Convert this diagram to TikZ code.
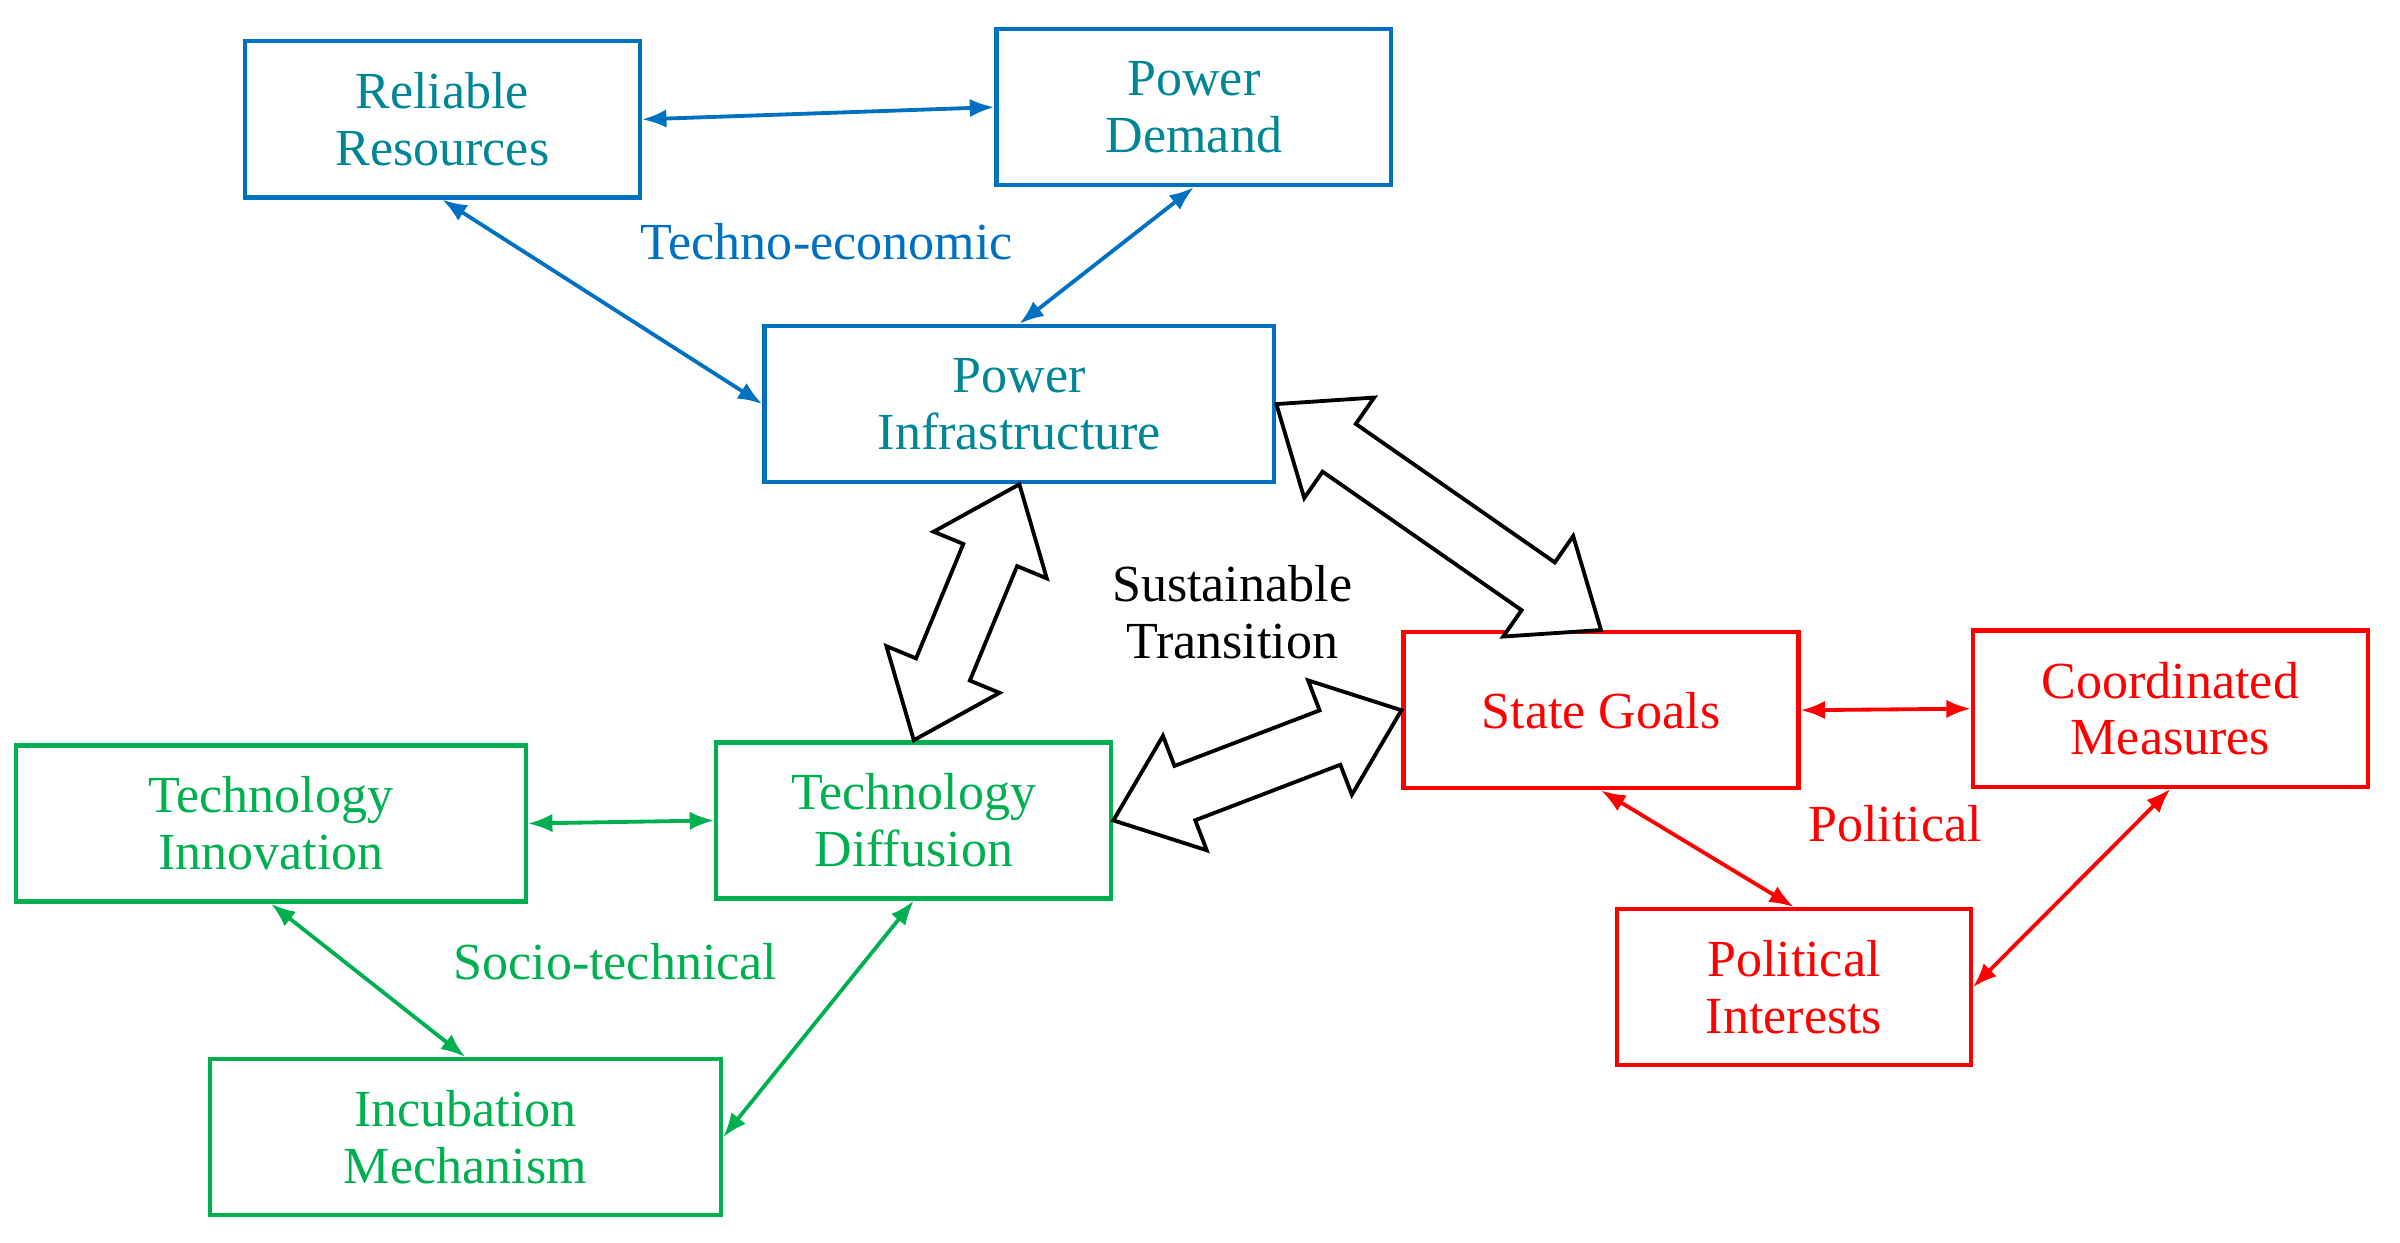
\documentclass[tikz,border=0pt]{standalone}
\usepackage{fontspec}
\setmainfont{Liberation Serif}
\usetikzlibrary{arrows.meta,calc}
\definecolor{bblue}{RGB}{0,112,192}
\definecolor{bteal}{RGB}{0,134,150}
\definecolor{ggreen}{RGB}{0,176,80}
\definecolor{rred}{RGB}{255,0,0}
\tikzset{
  box/.style={draw,line width=2.8pt,align=center,minimum width=258pt,minimum height=102pt,inner sep=2pt,font=\fontsize{34}{37}\selectfont},
  bbox/.style={box,draw=bblue,text=bteal},
  gbox/.style={box,draw=ggreen,text=ggreen},
  rbox/.style={box,draw=rred,text=rred},
  conn/.style={line width=2.5pt,{Latex[length=16pt,width=12pt]}-{Latex[length=16pt,width=12pt]}},
  lab/.style={font=\fontsize{34}{37}\selectfont,align=center},
  hollow/.style={draw=black,fill=white,line width=2.5pt,line join=miter}
}
\newcommand{\hollowarrow}[2]{%
  \coordinate (hA) at (#1);
  \coordinate (hB) at (#2);
  \coordinate (hC) at ($(hA)!50pt!(hB)$);
  \coordinate (hD) at ($(hB)!50pt!(hA)$);
  \draw[hollow] (hA)
    -- ($(hC)!40pt!90:(hB)$) -- ($(hC)!19pt!90:(hB)$)
    -- ($(hD)!19pt!-90:(hA)$) -- ($(hD)!40pt!-90:(hA)$)
    -- (hB)
    -- ($(hD)!40pt!90:(hA)$) -- ($(hD)!19pt!90:(hA)$)
    -- ($(hC)!19pt!-90:(hB)$) -- ($(hC)!40pt!-90:(hB)$)
    -- cycle;}
\begin{document}
\begin{tikzpicture}[x=1pt,y=-1pt]
\useasboundingbox (0,0) rectangle (1568,812);
\node[bbox] (rr) at (289,78) {Reliable\\Resources};
\node[bbox] (pd) at (780,70) {Power\\Demand};
\node[bbox,minimum width=333pt] (pi) at (666,264) {Power\\Infrastructure};
\node[gbox,minimum width=333pt] (ti) at (177,538) {Technology\\Innovation};
\node[gbox] (td) at (597,536) {Technology\\Diffusion};
\node[gbox,minimum width=334pt] (im) at (304,743) {Incubation\\Mechanism};
\node[rbox] (sg) at (1046,464) {State Goals};
\node[rbox] (cm) at (1418,463) {Coordinated\\Measures};
\node[rbox,minimum width=231pt] (pint) at (1172,645) {Political\\Interests};

\draw[conn,bblue] (rr.east) -- (pd.west);
\draw[conn,bblue] (rr.south) -- (pi.west);
\draw[conn,bblue] (pd.south) -- (pi.north);
\draw[conn,ggreen] (ti.east) -- (td.west);
\draw[conn,ggreen] (ti.south) -- (im.north);
\draw[conn,ggreen] (td.south) -- (im.east);
\draw[conn,rred] (sg.east) -- (cm.west);
\draw[conn,rred] (sg.south) -- (pint.north);
\draw[conn,rred] (cm.south) -- (pint.east);

\hollowarrow{pi.south}{td.north}
\hollowarrow{pi.east}{sg.north}
\hollowarrow{td.east}{sg.west}

\node[lab,text=bblue] (l1) at (540,158) {Techno-economic};
\node[lab,text=ggreen] (l2) at (402,628) {Socio-technical};
\node[lab,text=rred] (l3) at (1238,538) {Political};
\node[lab] (l4) at (805,400) {Sustainable\\Transition};
\end{tikzpicture}
\end{document}
